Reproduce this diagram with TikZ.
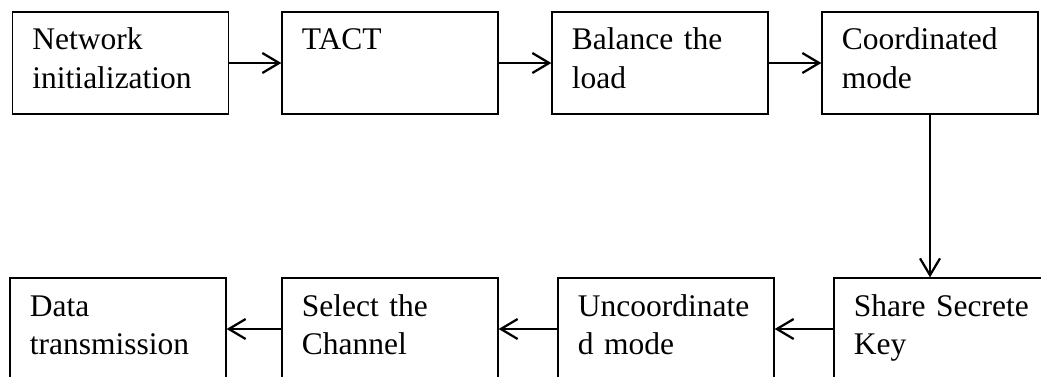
\documentclass[tikz,border=0pt]{standalone}
\usepackage{fontspec}
\setmainfont{Liberation Serif}
\usetikzlibrary{positioning,arrows.meta}

\begin{document}
\begin{tikzpicture}[x=0.025cm,y=-0.025cm,->,>={Straight Barb[length=0.42cm,width=0.5cm]},
        line width=1.6pt,main node/.style={draw, line width=0.9pt, rectangle, align=left, text width=4.4cm,
        inner xsep=0.5cm, inner ysep=0pt, text height=0.95cm, text depth=1.6cm, font=\fontsize{22.4}{27.7}\selectfont}]

\useasboundingbox (0,0) rectangle (1041,376);

\node[main node, ] (1) at (120.5,63) {Network\\initialization};
\node[main node, ] (2) at (390,63) {TACT};
\node[main node, ] (3) at (660,63) {Balance~the\\load};
\node[main node, ] (4) at (930,63) {Coordinated\\mode};

\node[main node, ] (5) at (942,329) {Share~Secrete\\Key};
\node[main node, ] (6) at (666,329) {Uncoordinate\\d~mode};
\node[main node, ] (7) at (390,329) {Select~the\\Channel};
\node[main node, ] (8) at (118,329) {Data\\transmission};

\draw (1.east) -- (2.west);
\draw (2.east) -- (3.west);
\draw (3.east) -- (4.west);
\draw (4.south) -- (4.south |- 5.north);

\draw (5.west) -- (6.east);
\draw (6.west) -- (7.east);
\draw (7.west) -- (8.east);

\end{tikzpicture}
\end{document}
